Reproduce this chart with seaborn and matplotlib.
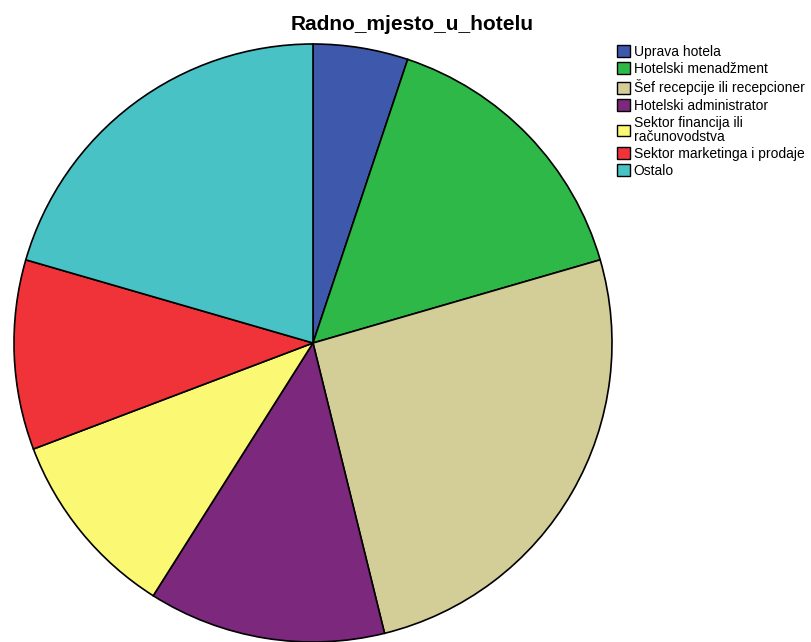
import matplotlib
matplotlib.use("Agg")
import matplotlib.pyplot as plt
import matplotlib.patches as mpatches
import seaborn as sns

# counts per category
categories = ["Uprava hotela", "Hotelski menadžment", "Šef recepcije ili recepcioner",
              "Hotelski administrator", "Sektor financija ili\nračunovodstva",
              "Sektor marketinga i prodaje", "Ostalo"]
counts = [2, 6, 10, 5, 4, 4, 8]
colors = ["#3E58AC", "#2EB848", "#D3CE97", "#7C287D", "#FBF873", "#EF3338", "#48C2C5"]

sns.set_style("white")
plt.rcParams['font.family'] = ['Liberation Sans', 'DejaVu Sans']
plt.rcParams['text.color'] = 'black'

fig = plt.figure(figsize=(8.11, 6.42), dpi=100)
ax = fig.add_axes([14/811, 0/642, 598/811, 598/642])
ax.pie(counts, colors=sns.color_palette(colors), startangle=90, counterclock=False,
       wedgeprops=dict(edgecolor="black", linewidth=1.2))
ax.set_xlim(-1, 1)
ax.set_ylim(-1, 1)
ax.set_aspect('auto')
ax.axis('off')

fig.text(412/811, 1 - 25/642, "Radno_mjesto_u_hotelu", ha="center", va="center",
         fontsize=15, fontweight="bold", color="black")

handles = [mpatches.Patch(facecolor=c, edgecolor="black", linewidth=1) for c in colors]
leg = fig.legend(handles, categories, loc="upper left", bbox_to_anchor=(617/811, 1 - 45/642),
                 frameon=False, fontsize=10, handlelength=0.95, handleheight=0.95,
                 handletextpad=0.25, labelspacing=0.23, borderaxespad=0, borderpad=0,
                 labelcolor="black")
for t in leg.get_texts():
    t.set_linespacing(1.0)

fig.savefig("out.png", dpi=100)
